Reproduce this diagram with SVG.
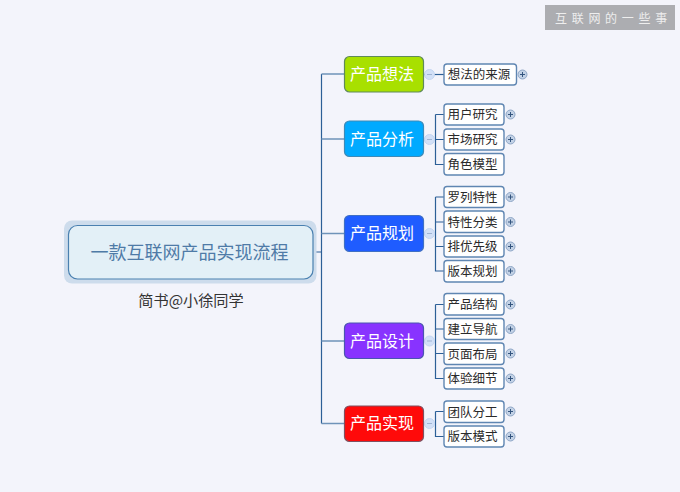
<svg xmlns="http://www.w3.org/2000/svg" width="680" height="492" viewBox="0 0 680 492">
<defs>
<g id="plus"><circle r="4.5" fill="#c3d2e6" stroke="#8ea6c6" stroke-width="1"/><path d="M-2.5 0H2.5M0 -2.500V2.500" stroke="#34557f" stroke-width="1" fill="none"/></g>
<g id="minus"><circle r="5" fill="#d2e0f7" stroke="#c4d6f2" stroke-width="1"/><path d="M-2.500 0H2.500" stroke="#9fb4d4" stroke-width="1" fill="none"/></g>
</defs>
<style>
text{font-family:"Noto Sans CJK SC","Liberation Sans",sans-serif}
.m rect{stroke-width:1.2}
.m text{font-size:16px;fill:#fff;text-anchor:middle}
.c rect{fill:#fff;stroke:#5f86b2;stroke-width:1.4}
.c text{font-size:12.500px;fill:#2a2a2a;text-anchor:middle}
.l{fill:none;stroke:#2c5f97;stroke-width:1.2}
</style>
<rect width="680" height="492" fill="#f3f4fb"/>
<g id="connectors">
<path class="l" d="M321.500 74V423.500M313 252H321.500"/>
<path class="l" d="M321.500 74H344M321.500 139H344M321.500 233.500H344M321.500 341H344M321.500 423.500H344" style="stroke:#6f93b9;stroke-width:1.5"/>
<path class="l" d="M423.500 74.500H444"/>
<path class="l" d="M435.500 114.500H444M435.500 114.500V164.500H444M435.500 139.500H444"/>
<path class="l" d="M435.500 197H444M435.500 197V271H444M435.500 222H444M435.500 246.500H444"/>
<path class="l" d="M435.500 304.500H444M435.500 304.500V378.500H444M435.500 329H444M435.500 353.500H444"/>
<path class="l" d="M435.500 411.500H444M435.500 411.500V436.500H444"/>
<use href="#minus" x="429.500" y="74.500"/>
<use href="#minus" x="429.500" y="139.500"/>
<use href="#minus" x="429.500" y="233.500"/>
<use href="#minus" x="429.500" y="341"/>
<use href="#minus" x="429.500" y="423.500"/>
</g>
<g id="root">
<rect x="64" y="220.500" width="252.500" height="63" rx="8" fill="#cddcec"/>
<rect x="68.500" y="225.500" width="244.500" height="53.500" rx="9" fill="#e3f0f7" stroke="#4a80b0" stroke-width="1.200"/>
<text x="189.500" y="258.500" text-anchor="middle" font-size="18" fill="#4f7ba7">一款互联网产品实现流程</text>
</g>
<g id="caption"><text x="191" y="306" text-anchor="middle" font-size="15.200" fill="#333">简书@小徐同学</text></g>
<g id="watermark">
<rect x="545" y="5" width="130" height="25" fill="#acadb1"/>
<text x="555" y="23" font-size="12" fill="#eeeeee" letter-spacing="4.700">互联网的一些事</text>
</g>
<g id="n1" class="m"><rect x="344.500" y="56.500" width="79" height="35.500" rx="5" fill="#a8e000" stroke="#5f8a5a"/><text x="382" y="79.500">产品想法</text></g>
<g id="n2" class="m"><rect x="344.500" y="121" width="79" height="35.500" rx="5" fill="#00aaff" stroke="#3d8ab8"/><text x="382" y="144.500">产品分析</text></g>
<g id="n3" class="m"><rect x="344.500" y="215.500" width="79" height="36" rx="5" fill="#1f5cff" stroke="#3f6fc4"/><text x="382" y="239">产品规划</text></g>
<g id="n4" class="m"><rect x="344.500" y="323" width="79" height="35.500" rx="5" fill="#8833ff" stroke="#4a55b0"/><text x="382" y="346.500">产品设计</text></g>
<g id="n5" class="m"><rect x="344.500" y="406" width="79" height="35.500" rx="5" fill="#ff0a0a" stroke="#805060"/><text x="382" y="429">产品实现</text></g>
<g id="c1" class="c"><rect x="444" y="64" width="72.500" height="21" rx="3"/><text x="479" y="79">想法的来源</text></g>
<g id="c2" class="c"><rect x="444" y="104" width="60" height="21" rx="3"/><text x="472.500" y="119">用户研究</text></g>
<g id="c3" class="c"><rect x="444" y="129" width="60" height="21" rx="3"/><text x="472.500" y="144">市场研究</text></g>
<g id="c4" class="c"><rect x="444" y="153.500" width="60" height="21.500" rx="3"/><text x="472.500" y="169">角色模型</text></g>
<g id="c5" class="c"><rect x="444" y="186.500" width="60" height="21" rx="3"/><text x="472.500" y="202">罗列特性</text></g>
<g id="c6" class="c"><rect x="444" y="211" width="60" height="21.500" rx="3"/><text x="472.500" y="226.500">特性分类</text></g>
<g id="c7" class="c"><rect x="444" y="236" width="60" height="21" rx="3"/><text x="472.500" y="251">排优先级</text></g>
<g id="c8" class="c"><rect x="444" y="260.500" width="60" height="21.500" rx="3"/><text x="472.500" y="275.500">版本规划</text></g>
<g id="c9" class="c"><rect x="444" y="293.500" width="60" height="21.500" rx="3"/><text x="472.500" y="309">产品结构</text></g>
<g id="c10" class="c"><rect x="444" y="318.500" width="60" height="21" rx="3"/><text x="472.500" y="333.500">建立导航</text></g>
<g id="c11" class="c"><rect x="444" y="343" width="60" height="21.500" rx="3"/><text x="472.500" y="358.500">页面布局</text></g>
<g id="c12" class="c"><rect x="444" y="368" width="60" height="21" rx="3"/><text x="472.500" y="383">体验细节</text></g>
<g id="c13" class="c"><rect x="444" y="401" width="60" height="21.500" rx="3"/><text x="472.500" y="416.500">团队分工</text></g>
<g id="c14" class="c"><rect x="444" y="426" width="60" height="21" rx="3"/><text x="472.500" y="441">版本模式</text></g>
<g id="toggles">
<use href="#plus" x="522.500" y="74.500"/>
<use href="#plus" x="510.500" y="114.500"/>
<use href="#plus" x="510.500" y="139.500"/>
<use href="#plus" x="510.500" y="197"/>
<use href="#plus" x="510.500" y="222"/>
<use href="#plus" x="510.500" y="246.500"/>
<use href="#plus" x="510.500" y="271"/>
<use href="#plus" x="510.500" y="304.500"/>
<use href="#plus" x="510.500" y="329"/>
<use href="#plus" x="510.500" y="353.500"/>
<use href="#plus" x="510.500" y="378.500"/>
<use href="#plus" x="510.500" y="411.500"/>
<use href="#plus" x="510.500" y="436.500"/>
</g>
</svg>
